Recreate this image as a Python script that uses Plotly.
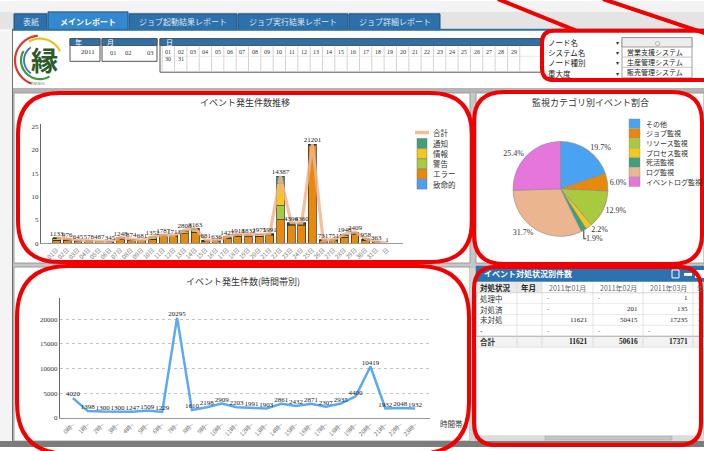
import math
import plotly.graph_objects as go

W, H = 704, 451
def X(x): return x / W
def Y(y): return 1 - y / H

JP = "Noto Sans CJK JP"
SERIF = "Liberation Serif"

# ---------------- data ----------------
day_labels = ["01日", "02日", "03日", "04日", "05日", "06日", "07日", "08日", "09日", "10日",
              "11日", "12日", "13日", "14日", "15日", "16日", "17日", "18日", "19日", "20日",
              "21日", "22日", "23日", "24日", "25日", "26日", "27日", "28日", "29日", "30日",
              "31日", "日"]
daily_total = [1133, 976, 645, 578, 487, 345, 1248, 874, 681, 1352, 1787, 1711, 2808, 3163, 681, 636,
               1427, 1918, 1832, 1975, 1991, 14387, 4396, 4360, 21201, 731, 751, 1948, 2409, 958, 363, 1]
daily_fatal = [0, 0, 0, 0, 0, 0, 0, 0, 0, 0, 0, 0, 0, 0, 0, 0,
               0, 0, 0, 0, 0, 0, 0, 0, 0, 0, 0, 0, 0, 0, 0, 0]
daily_error = [700, 650, 480, 430, 360, 250, 850, 640, 500, 900, 1350, 1350, 2000, 2400, 470, 450,
               1100, 1500, 1480, 1550, 1560, 5000, 3800, 3750, 20900, 560, 580, 1300, 1850, 700, 260, 1]
daily_warning = [250, 200, 90, 80, 70, 50, 250, 130, 100, 300, 280, 220, 500, 450, 120, 110,
                 200, 250, 200, 240, 250, 3000, 220, 230, 120, 90, 90, 400, 300, 150, 60, 0]
daily_info = [90, 66, 40, 38, 30, 25, 80, 54, 41, 72, 77, 71, 158, 163, 51, 40,
              67, 88, 82, 95, 91, 4700, 150, 160, 100, 41, 41, 148, 159, 58, 23, 0]
daily_notice = [93, 60, 35, 30, 27, 20, 68, 50, 40, 80, 80, 70, 150, 150, 40, 36,
                60, 80, 70, 90, 90, 1687, 226, 220, 81, 40, 40, 100, 100, 50, 20, 0]
severity_names = ["致命的", "エラー", "警告", "情報", "通知"]
severity_colors = ["#4a9ff0", "#e8890c", "#a9c93f", "#f2c81a", "#3f9f78"]
total_name = "合計"

hour_labels = ["0時~", "1時~", "2時~", "3時~", "4時~", "5時~", "6時~", "7時~", "8時~", "9時~",
               "10時~", "11時~", "12時~", "13時~", "14時~", "15時~", "16時~", "17時~", "18時~",
               "19時~", "20時~", "21時~", "22時~", "23時~"]
hourly_count = [4020, 1398, 1300, 1300, 1247, 1509, 1229, 20295, 1610, 2198, 2909, 2203, 1991, 1903,
                2861, 2432, 2871, 2307, 2935, 4400, 10419, 1932, 2048, 1932]

pie_labels = ["その他", "ジョブ監視", "リソース監視", "プロセス監視", "死活監視", "ログ監視", "イベントログ監視"]
pie_values = [19.7, 6.0, 12.9, 2.2, 1.9, 31.7, 25.4]
pie_colors = ["#4aa3f2", "#e8890c", "#a9c93f", "#f2c81a", "#3f9f78", "#eab58f", "#e676dc"]

table_title = "イベント対処状況別件数"
table_cols = ["対処状況", "年月", "2011年01月", "2011年02月", "2011年03月", "年"]
table_rows = ["処理中", "対処済", "未対処", "-", "合計"]
table_jan = ["-", "-", "11621", "-", "11621"]
table_feb = ["-", "201", "50415", "-", "50616"]
table_mar = ["1", "135", "17235", "-", "17371"]
table_apr = ["-", "-", "-", "", ""]

tabs = ["表紙", "メインレポート", "ジョブ起動結果レポート", "ジョブ実行結果レポート", "ジョブ詳細レポート"]
months = ["01", "02", "03"]
day_cells = ["01", "02", "03", "04", "05", "06", "07", "08", "09", "10", "11", "12", "13", "14", "15",
             "16", "17", "18", "19", "20", "21", "22", "23", "24", "25", "26", "27", "28", "29"]
day_cells2 = ["30", "31"]
filters = ["ノード名", "システム名", "ノード種別", "重大度"]
systems = ["営業支援システム", "生産管理システム", "販売管理システム"]

# ---------------- figure ----------------
fig = go.Figure()
shapes = []
ann = []

def rect(x0, y0, x1, y1, fill="rgba(0,0,0,0)", line=None, lw=0, layer="below"):
    shapes.append(dict(type="rect", xref="paper", yref="paper",
                       x0=X(x0), x1=X(x1), y0=Y(y1), y1=Y(y0),
                       fillcolor=fill, line=dict(color=line or "rgba(0,0,0,0)", width=lw),
                       layer=layer))

def hline(x0, x1, y, color, lw=1, layer="below", dash="solid"):
    shapes.append(dict(type="line", xref="paper", yref="paper", x0=X(x0), x1=X(x1), y0=Y(y), y1=Y(y),
                       line=dict(color=color, width=lw, dash=dash), layer=layer))

def vline(x, y0, y1, color, lw=1, layer="below"):
    shapes.append(dict(type="line", xref="paper", yref="paper", x0=X(x), x1=X(x), y0=Y(y0), y1=Y(y1),
                       line=dict(color=color, width=lw), layer=layer))

def txt(x, y, s, size=8, color="#222", xa="left", ya="middle", family=JP):
    ann.append(dict(x=X(x), y=Y(y), xref="paper", yref="paper", text=s, showarrow=False,
                    xanchor=xa, yanchor=ya, font=dict(size=size, color=color, family=family)))

def rr_path(x0, y0, x1, y1, r):
    p = [f"M{X(x0 + r)},{Y(y0)}", f"L{X(x1 - r)},{Y(y0)}", f"Q{X(x1)},{Y(y0)} {X(x1)},{Y(y0 + r)}",
         f"L{X(x1)},{Y(y1 - r)}", f"Q{X(x1)},{Y(y1)} {X(x1 - r)},{Y(y1)}",
         f"L{X(x0 + r)},{Y(y1)}", f"Q{X(x0)},{Y(y1)} {X(x0)},{Y(y1 - r)}",
         f"L{X(x0)},{Y(y0 + r)}", f"Q{X(x0)},{Y(y0)} {X(x0 + r)},{Y(y0)}", "Z"]
    return " ".join(p)

def red_rr(x0, y0, x1, y1, r):
    shapes.append(dict(type="path", xref="paper", yref="paper", path=rr_path(x0, y0, x1, y1, r),
                       line=dict(color="#f00000", width=4), layer="above"))

def red_line(x0, y0, x1, y1):
    shapes.append(dict(type="line", xref="paper", yref="paper", x0=X(x0), y0=Y(y0), x1=X(x1), y1=Y(y1),
                       line=dict(color="#f00000", width=4), layer="above"))

def arc(cx, cy, r, a0, a1, color, lw):
    pts = []
    n = 24
    for k in range(n + 1):
        a = math.radians(a0 + (a1 - a0) * k / n)
        pts.append((cx + r * math.cos(a), cy - r * math.sin(a)))
    path = "M" + " L".join(f"{X(px)},{Y(py)}" for px, py in pts)
    shapes.append(dict(type="path", xref="paper", yref="paper", path=path,
                       line=dict(color=color, width=lw), layer="below"))

# ---- page backgrounds ----
rect(0, 0, 704, 11, fill="#f3f3f3")
rect(0, 11, 704, 29, fill="#e4e4e4")
rect(0, 29, 704, 88, fill="#ffffff")
rect(0, 88, 704, 451, fill="#c6c6c6")
rect(0, 30, 12, 446, fill="#f4f4f4")
vline(12.5, 29, 446, "#6f6f6f", 1)
rect(13, 88, 704, 93, fill="#b4b4b4")
# panels
rect(14, 93, 470, 265, fill="#ffffff", line="#9a9a9a", lw=1)
rect(14, 269, 470, 445, fill="#ffffff", line="#9a9a9a", lw=1)
rect(470, 270, 476, 445, fill="#d4d4d4")
rect(476, 93, 704, 265, fill="#ffffff", line="#9a9a9a", lw=1)
rect(476, 268, 704, 445, fill="#ffffff", line="#9a9a9a", lw=1)
rect(0, 445, 704, 451, fill="#7c7c7c")

# ---- tabs ----
tab_x = [(14, 47), (48, 128), (129, 237), (238, 348), (349, 440)]
for i, (name, (a, b)) in enumerate(zip(tabs, tab_x)):
    active = (i == 1)
    rect(a, 11 if active else 13, b, 29, fill="#3388cf" if active else "#2e70a9",
         line="#1f5585", lw=1)
    txt((a + b) / 2, 21, f"<b>{name}</b>" if active else name, size=8,
        color="#ffffff" if active else "#dbe8f4", xa="center")
rect(12, 28, 704, 30, fill="#2e70a9")

# ---- logo ----
arc(40, 60, 25, 95, 250, "#d93a2b", 2.2)
arc(40, 60, 22, 25, 120, "#e8c21c", 2.2)
arc(40, 60, 19, 150, 300, "#3d9a3a", 2.2)
arc(40, 60, 16, 125, 235, "#3a6fd0", 1.8)
txt(44, 59, "<b>縁</b>", size=27, color="#2c5a28", xa="center", family=JP)
txt(37, 83, "ENISHI", size=4, color="#777", xa="center", family="DejaVu Sans")

# ---- year / month / day selectors ----
rect(70, 38, 100, 61, fill="#ffffff", line="#555", lw=1)
rect(70, 38, 100, 45, fill="#2e70a9", line="#555", lw=1)
txt(73, 41.5, "年", size=7, color="#fff")
txt(97, 52, "2011", size=7, color="#333", xa="right", family=SERIF)

rect(102, 38, 157, 61, fill="#ffffff", line="#555", lw=1)
rect(102, 38, 157, 45, fill="#2e70a9", line="#555", lw=1)
txt(105, 41.5, "月", size=7, color="#fff")
for m, mx in zip(months, [113, 128, 150]):
    txt(mx, 52, m, size=6.5, color="#333", xa="center", family=SERIF)

rect(160, 38, 560, 72, fill="#ffffff", line="#555", lw=1)
rect(160, 38, 560, 45, fill="#2e70a9", line="#555", lw=1)
txt(164, 41.5, "日", size=7, color="#fff")
for k in range(30):
    vline(162.2 + 12.33 * k, 46, 72, "#c8c8c8", 0.8)
hline(162, 560, 56, "#dddddd", 0.6)
for k, d in enumerate(day_cells):
    txt(168.4 + 12.33 * k, 51.5, d, size=6, color="#333", xa="center", family=SERIF)
for k, d in enumerate(day_cells2):
    txt(168.4 + 12.33 * k, 59, d, size=6, color="#333", xa="center", family=SERIF)

# ---- filter panel ----
rect(541, 33, 704, 82, fill="#ffffff")
for k, f in enumerate(filters):
    yy = 42 + 10.3 * k
    txt(546, yy, f, size=7.5, color="#222")
    txt(617, yy, "▾", size=6, color="#333", xa="center", family="DejaVu Sans")
rect(622, 37, 692, 78, fill="#ffffff", line="#888", lw=0.8)
rect(622, 37, 692, 46.5, fill="#ededed", line="#888", lw=0.8)
txt(657, 42, "○", size=6, color="#555", xa="center", family="DejaVu Sans")
for k, s in enumerate(systems):
    yy = 51.5 + 10.3 * k
    txt(625, yy, s, size=7, color="#222")
    hline(622, 692, yy + 5.2, "#aaaaaa", 0.7)

# ---- daily stacked bar chart ----
idx32 = list(range(len(day_labels)))
for name, vals, col in zip(severity_names,
                           [daily_fatal, daily_error, daily_warning, daily_info, daily_notice],
                           severity_colors):
    fig.add_trace(go.Bar(x=idx32, y=[v / 1000 for v in vals], name=name, marker=dict(
        color=col, line=dict(color="#2a2a2a", width=0.7)), width=0.74,
        xaxis="x", yaxis="y", showlegend=False))
fig.add_trace(go.Scatter(x=idx32, y=[v / 1000 for v in daily_total], name=total_name, mode="lines",
                         line=dict(color="rgba(242,180,140,0.85)", width=3.2),
                         xaxis="x", yaxis="y", showlegend=False))
fig.add_trace(go.Scatter(x=idx32, y=[v / 1000 for v in daily_total], mode="text",
                         text=[str(v) for v in daily_total], textposition="top center",
                         textfont=dict(size=7, family=SERIF, color="#222"),
                         xaxis="x", yaxis="y", showlegend=False, cliponaxis=False))
txt(245, 103, "イベント発生件数推移", size=9, color="#333", xa="center")

# legend for bar chart
hline(415, 429, 133, "rgba(242,180,140,0.9)", 3.5, layer="above")
txt(431, 133, total_name, size=7.5, color="#333")
leg_order = [4, 3, 2, 1, 0]
for k, si in enumerate(leg_order):
    yy = 144 + 10.3 * k
    rect(417, yy - 5, 427, yy + 5, fill=severity_colors[si], line="#777", lw=0.5, layer="above")
    txt(431, yy, severity_names[si], size=7.5, color="#333")

# ---- hourly line chart ----
idx24 = list(range(len(hour_labels)))
fig.add_trace(go.Scatter(x=idx24, y=hourly_count, mode="lines+text", text=[str(v) for v in hourly_count],
                         textposition="top center", textfont=dict(size=7, family=SERIF, color="#222"),
                         line=dict(color="#5aa9f2", width=2.5), xaxis="x2", yaxis="y2",
                         showlegend=False, cliponaxis=False))
txt(243, 284, "イベント発生件数(時間帯別)", size=9, color="#333", xa="center")
txt(438, 427, "時間帯", size=7.5, color="#333")

# ---- pie ----
fig.add_trace(go.Pie(values=pie_values, labels=pie_labels, sort=False, direction="clockwise",
                     rotation=0, marker=dict(colors=pie_colors, line=dict(color="#8a8a8a", width=0.6)),
                     textposition="outside", texttemplate="%{value:.1f}%",
                     textfont=dict(size=8, family=SERIF, color="#333"),
                     domain=dict(x=[X(512.5), X(608.5)], y=[Y(238), Y(142)]),
                     showlegend=False))
txt(590, 103, "監視カテゴリ別イベント割合", size=9, color="#333", xa="center")
for k, (lab, col) in enumerate(zip(pie_labels, pie_colors)):
    yy = 124 + 9.8 * k
    rect(629, yy - 4.7, 640, yy + 4.7, fill=col, line="#888", lw=0.4, layer="above")
    txt(644, yy, lab, size=7, color="#333")

# ---- table (drawn as a grid from the table lists) ----
rect(476, 268, 704, 284, fill="#2d72b0")
txt(482, 276, "<b>" + table_title + "</b>", size=8, color="#ffffff")
rect(672, 272, 679, 280, fill="rgba(0,0,0,0)", line="#ffffff", lw=1)
rect(684, 275, 692, 278, fill="#ffffff")
rect(695, 272, 704, 280, fill="#ffffff")

col_edges = [476, 517, 542, 593, 643, 693, 744]
head_top, head_bot = 284.5, 295
row_h = 11
rect(476, head_top, 542, head_bot, fill="#e9e9e9")
for c, name in enumerate(table_cols):
    a, b = col_edges[c], col_edges[c + 1]
    if c < 2:
        txt(a + 2, (head_top + head_bot) / 2, "<b>" + name + "</b>", size=7.5, color="#222")
    else:
        txt((a + b) / 2 if c < 5 else a + 2, (head_top + head_bot) / 2, name, size=7,
            color="#666", xa="center" if c < 5 else "left", family=JP)
hline(476, 704, head_bot, "#c9c9c9", 0.8)
cols_vals = [table_jan, table_feb, table_mar, table_apr]
for r, rname in enumerate(table_rows):
    y0 = head_bot + r * row_h
    yc = y0 + row_h / 2
    last = (r == len(table_rows) - 1)
    if last:
        rect(476, y0, 704, y0 + row_h + 1, fill="#f2f2f2")
        hline(476, 704, y0, "#9a9a9a", 0.8)
    txt(478, yc, ("<b>" + rname + "</b>") if last else rname, size=7.5, color="#333")
    for c, vals in enumerate(cols_vals):
        a, b = col_edges[c + 2], col_edges[c + 3]
        v = vals[r]
        if v == "":
            continue
        if v == "-":
            txt(a + 3, yc, v, size=7, color="#555", family=SERIF)
        else:
            txt(b - 3, yc, ("<b>" + v + "</b>") if last else v, size=7.5 if last else 7,
                color="#222", xa="right", family=SERIF)
    hline(476, 704, y0 + row_h, "#dedede", 0.6)
for e in col_edges[1:-1]:
    vline(e, head_top, head_bot + row_h * len(table_rows), "#d6d6d6", 0.7)
# scrollbar
rect(476, 439, 704, 445, fill="#dcdcdc")
rect(545, 440, 672, 444, fill="#c4c4c4", line="#aaaaaa", lw=0.5)

# ---- red annotation outlines ----
red_rr(18, 93, 472, 264, 42)
red_rr(17, 268, 469, 458, 52)
red_rr(474, 92, 702, 266, 30)
red_rr(474, 269, 701, 449, 22)
red_rr(542, 30, 740, 80, 12)
red_line(498, -2, 576, 30)
red_line(603, -2, 706, 33)

fig.update_layout(
    width=W, height=H, margin=dict(l=0, r=0, t=0, b=0, pad=0),
    paper_bgcolor="#ffffff", plot_bgcolor="rgba(0,0,0,0)",
    barmode="stack", bargap=0.3, showlegend=False,
    font=dict(family=JP, size=8, color="#333"),
    shapes=shapes, annotations=ann,
    xaxis=dict(domain=[X(41), X(403)], range=[-1.47, 32.5], tickvals=idx32, ticktext=day_labels,
               tickangle=-45, tickfont=dict(size=6, color="#777", family=JP), showline=True,
               linecolor="#999", linewidth=1, showgrid=False, zeroline=False, ticks="", anchor="y"),
    yaxis=dict(domain=[Y(245), Y(124.4)], range=[0, 25.5], tickvals=[0, 5, 10, 15, 20, 25],
               tickfont=dict(size=7, color="#333", family=SERIF), showline=True, linecolor="#666",
               linewidth=1, showgrid=False, zeroline=False, ticks="", anchor="x"),
    xaxis2=dict(domain=[X(60), X(430)], range=[-0.87, 24.0], tickvals=idx24, ticktext=hour_labels,
                tickangle=-45, tickfont=dict(size=6, color="#777", family=JP), showline=True,
                linecolor="#999", linewidth=1, showgrid=False, zeroline=False, ticks="", anchor="y2"),
    yaxis2=dict(domain=[Y(421.7), Y(300)], range=[0, 24340], tickvals=[0, 5000, 10000, 15000, 20000],
                tickformat="d",
                tickfont=dict(size=7, color="#333", family=SERIF), showline=True, linecolor="#666",
                linewidth=1, showgrid=True, gridcolor="#c4c4c4", griddash="dot", zeroline=False,
                ticks="", anchor="x2"),
)

fig.write_html("out.html")
